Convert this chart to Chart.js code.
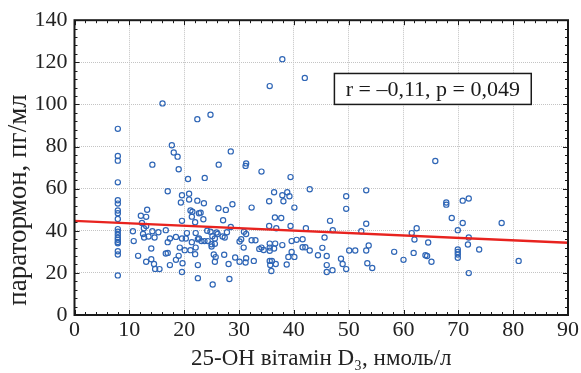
<!DOCTYPE html>
<html><head><meta charset="utf-8">
<script src="https://cdn.jsdelivr.net/npm/chart.js@4/dist/chart.umd.min.js"></script>
<style>html,body{margin:0;padding:0;background:#fff}#wrap{width:581px;height:373px}</style>
</head><body><div id="wrap"><canvas id="c" width="581" height="373"></canvas></div>
<script>
// 25-OH vitamin D3 (nmol/L)
const vitaminD = [
  7.9,7.9,7.9,7.9,7.9,7.9,7.9,7.9,7.9,7.9,7.9,7.9,7.9,7.9,7.9,7.9,7.9,7.9,7.9,
  16.05,22.4,17.75,18.1,18.8,14.2,19.0,37.9,42.0,35.6,24.8,28.5,26.3,31.3,31.2,34.1,65.8,
  20.7,17.0,19.6,20.9,20.9,19.4,22.4,13.25,21.15,21.5,12.1,13.07,21.4,22.7,12.3,22.0,19.6,
  12.65,13.07,10.65,14.2,15.3,16.65,12.5,12.7,13.5,14.6,17.4,18.5,19.6,20.3,20.5,22.1,
  10.8,17.0,21.4,22.5,19.2,20.1,21.15,22.1,14.0,16.65,17.0,11.6,19.0,18.5,13.07,14.0,
  14.5,17.4,19.7,14.7,15.5,22.5,19.6,22.5,
  23.75,39.4,42.9,36.4,37.9,38.8,39.2,38.1,35.5,23.6,28.8,26.25,27.6,32.3,40.1,23.0,23.5,
  27.1,36.55,37.7,36.8,35.5,39.4,42.2,28.5,24.2,24.8,25.9,26.1,27.8,30.9,31.3,22.7,25.15,
  25.6,27.0,27.4,23.15,23.7,24.3,30.4,30.1,32.3,33.0,35.6,36.6,39.6,40.5,41.6,25.0,25.6,
  25.0,30.85,33.7,34.1,34.5,35.6,35.6,36.4,37.9,39.6,41.6,42.1,22.0,25.4,25.75,27.3,25.6,
  29.3,30.1,31.3,31.2,32.7,28.1,35.6,36.0,35.7,36.7,39.0,40.1,38.7,35.9,25.2,28.25,44.4,
  49.55,53.2,49.55,46.6,53.2,47.1,52.3,45.6,45.2,42.9,46.0,46.0,46.0,47.05,48.6,48.9,49.55,
  50.1,51.2,53.2,53.65,53.4,54.3,58.3,60.0,61.5,62.4,62.0,61.85,64.5,64.0,64.3,65.1,
  67.8,67.8,70.8,71.9,68.8,70.8,77.9,69.9,71.9,71.75,69.9,69.9,69.9,69.9,73.8,81.0,71.9
];
// parathormone (pg/mL)
const parathormone = [
  88.4,75.5,73.3,63.0,54.5,52.9,49.6,48.3,45.6,40.8,39.5,38.1,36.7,35.7,34.7,34.1,30.3,28.7,18.8,
  100.5,93.0,80.6,77.2,75.2,71.4,69.2,121.5,112.6,108.7,95.1,77.7,71.4,72.0,70.8,68.1,73.1,
  64.6,58.8,56.9,57.6,54.8,53.4,54.3,50.0,49.6,49.0,47.1,46.6,46.7,48.3,43.7,44.1,44.7,
  41.2,42.3,39.8,39.8,39.3,40.3,38.5,36.8,37.3,36.8,36.3,37.1,36.3,36.3,38.9,38.9,
  35.1,34.6,34.6,36.0,32.0,30.8,30.8,32.0,31.6,29.2,29.5,28.1,28.1,26.2,25.3,26.5,
  24.2,23.7,24.6,21.9,21.8,23.7,20.4,17.5,
  65.1,65.5,59.7,58.3,56.9,58.3,56.4,54.0,54.0,53.1,52.6,50.7,49.9,51.0,51.0,48.6,45.5,
  45.0,46.3,46.1,41.2,42.3,42.3,41.2,41.8,40.0,39.5,39.2,38.5,39.3,39.5,38.5,36.3,37.4,
  36.3,37.3,36.8,35.1,35.1,35.1,36.0,34.9,35.5,35.5,33.9,33.9,35.1,35.7,36.0,33.6,33.8,
  32.5,32.0,31.4,32.0,30.9,32.0,30.5,31.6,33.2,29.9,32.2,32.2,28.9,28.7,27.5,28.6,25.3,
  27.3,25.3,27.0,24.9,25.7,24.2,25.7,25.7,23.8,24.2,27.6,27.6,24.0,20.9,14.5,17.1,28.4,
  56.4,59.2,50.4,44.7,43.3,40.3,39.8,36.8,31.9,30.6,28.0,23.7,20.4,21.3,26.7,24.2,21.8,
  30.6,30.6,30.6,33.0,24.6,22.3,30.0,26.2,38.9,41.2,35.8,29.5,34.4,28.4,28.0,25.3,
  53.4,52.4,54.3,55.3,46.1,43.7,43.7,40.3,36.8,33.5,31.1,29.9,28.7,27.2,31.1,25.7,19.9
];
// regression line endpoints
const fitX = [0, 90];
const fitY = [44.7, 34.3];
const xTickValues = [0,10,20,30,40,50,60,70,80,90];
const yTickValues = [0,20,40,60,80,100,120,140];
const statLabel = 'r = –0,11, p = 0,049';
const xTitle = '25-OH вітамін D₃, нмоль/л';
const yTitle = 'паратормон, пг/мл';

const serif = "'Liberation Serif','Times New Roman',serif";
const points = vitaminD.map((x,i)=>({x, y: parathormone[i]}));
const fitLine = fitX.map((x,i)=>({x, y: fitY[i]}));

const framePlugin = {
  id: 'frame',
  afterDraw(chart) {
    const {ctx, chartArea: a, scales: {x, y}} = chart;
    ctx.save();
    ctx.strokeStyle = '#1a1a1a';
    ctx.lineWidth = 1;
    ctx.beginPath();
    for (let v = 0; v <= 90; v += 2) {
      const px = Math.round(x.getPixelForValue(v)) + 0.5;
      const len = (v % 10 === 0) ? 5 : 3;
      ctx.moveTo(px, a.bottom); ctx.lineTo(px, a.bottom - len);
      ctx.moveTo(px, a.top); ctx.lineTo(px, a.top + len);
    }
    for (let v = 0; v <= 140; v += 4) {
      const py = Math.round(y.getPixelForValue(v)) + 0.5;
      const len = (v % 20 === 0) ? 5 : 3;
      ctx.moveTo(a.left, py); ctx.lineTo(a.left + len, py);
      ctx.moveTo(a.right, py); ctx.lineTo(a.right - len, py);
    }
    ctx.stroke();
    ctx.lineWidth = 2;
    ctx.strokeRect(a.left, a.top, a.right - a.left, a.bottom - a.top);
    // stat box
    const bx1 = x.getPixelForValue(47.4), bx2 = x.getPixelForValue(83.3);
    const by1 = y.getPixelForValue(114.7), by2 = y.getPixelForValue(100.0);
    ctx.fillStyle = '#fff';
    ctx.fillRect(bx1, by1, bx2 - bx1, by2 - by1);
    ctx.lineWidth = 1.5;
    ctx.strokeRect(bx1, by1, bx2 - bx1, by2 - by1);
    ctx.fillStyle = '#1a1a1a';
    ctx.font = "22px " + serif;
    ctx.textAlign = 'center';
    ctx.textBaseline = 'middle';
    ctx.fillText(statLabel, (bx1 + bx2) / 2, (by1 + by2) / 2 + 1);
    // y-axis title
    ctx.translate(26, 200);
    ctx.rotate(-Math.PI / 2);
    ctx.font = "27px " + serif;
    ctx.textAlign = 'center';
    ctx.textBaseline = 'alphabetic';
    ctx.fillStyle = '#222';
    ctx.fillText(yTitle, 0, 0);
    ctx.restore();
  }
};

new Chart(document.getElementById('c'), {
  type: 'scatter',
  data: {
    datasets: [
      { type: 'line', data: fitLine, borderColor: '#e8231f', borderWidth: 2.4, pointRadius: 0, fill: false, order: 0 },
      { type: 'scatter', data: points, pointStyle: 'circle', pointRadius: 2.6, borderWidth: 1.2,
        borderColor: '#2f66b6', backgroundColor: 'rgba(0,0,0,0)', order: 1 }
    ]
  },
  options: {
    responsive: false,
    animation: false,
    devicePixelRatio: 1,
    layout: { padding: { top: 20, right: 12, left: 0, bottom: 0 } },
    plugins: { legend: { display: false }, tooltip: { enabled: false } },
    scales: {
      x: {
        type: 'linear', min: 0, max: 90,
        afterFit(s) { s.height = 58; },
        afterBuildTicks(s) { s.ticks = xTickValues.map(v => ({ value: v })); },
        ticks: { font: { family: serif, size: 22 }, color: '#222', padding: 2, maxRotation: 0, autoSkip: false },
        grid: { color: '#c4c4c4', lineWidth: 1, drawTicks: false },
        border: { display: false, dash: [1, 1] },
        title: { display: true, text: xTitle, font: { family: serif, size: 23, lineHeight: 1.2 }, color: '#222', padding: { top: 0, bottom: 0 } }
      },
      y: {
        type: 'linear', min: 0, max: 140,
        afterFit(s) { s.width = 74.5; },
        afterBuildTicks(s) { s.ticks = yTickValues.map(v => ({ value: v })); },
        ticks: { font: { family: serif, size: 22 }, color: '#222', padding: 7, autoSkip: false },
        grid: { color: '#c4c4c4', lineWidth: 1, drawTicks: false },
        border: { display: false, dash: [1, 1] },
        title: { display: false }
      }
    }
  },
  plugins: [framePlugin]
});
</script>
</body></html>
